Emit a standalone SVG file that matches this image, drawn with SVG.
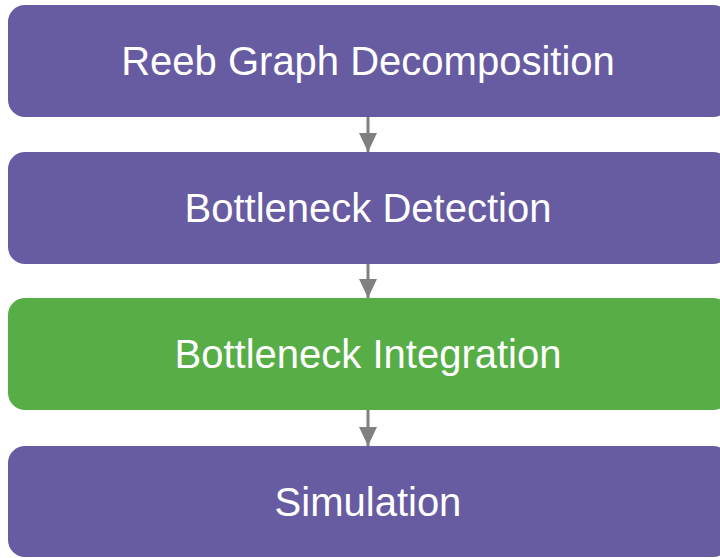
<svg xmlns="http://www.w3.org/2000/svg" width="720" height="558" viewBox="0 0 720 558">
  <style>
    .box { stroke: none; }
    .purple { fill: #675CA2; }
    .green { fill: #57AD46; }
    .label { fill: #FFFFFF; font-family: "Liberation Sans", Arial, sans-serif; font-size: 40px; text-anchor: middle; }
    .conn { stroke: #808080; stroke-width: 3; fill: none; marker-end: url(#arrow); }
  </style>
  <defs>
    <!-- grey triangular arrowhead, tip at the line end -->
    <marker id="arrow" viewBox="0 0 19 18" refX="19" refY="9" markerWidth="19" markerHeight="18" markerUnits="userSpaceOnUse" orient="auto">
      <path d="M0,0 L19,9 L0,18 Z" fill="#808080"/>
    </marker>
  </defs>
  <rect width="720" height="558" fill="#FFFFFF"/>

  <g id="connectors">
    <line class="conn" x1="368" y1="117" x2="368" y2="152"/>
    <line class="conn" x1="368" y1="264" x2="368" y2="298"/>
    <line class="conn" x1="368" y1="410" x2="368" y2="446"/>
  </g>

  <g id="reeb-graph-decomposition">
    <rect class="box purple" x="8" y="5" width="722" height="112" rx="17"/>
    <text class="label" x="368" y="75">Reeb Graph Decomposition</text>
  </g>

  <g id="bottleneck-detection">
    <rect class="box purple" x="8" y="152" width="722" height="112" rx="17"/>
    <text class="label" x="368" y="222">Bottleneck Detection</text>
  </g>

  <g id="bottleneck-integration">
    <rect class="box green" x="8" y="298" width="722" height="112" rx="17"/>
    <text class="label" x="368" y="368">Bottleneck Integration</text>
  </g>

  <g id="simulation">
    <rect class="box purple" x="8" y="446" width="722" height="111" rx="17"/>
    <text class="label" x="368" y="516">Simulation</text>
  </g>
</svg>
